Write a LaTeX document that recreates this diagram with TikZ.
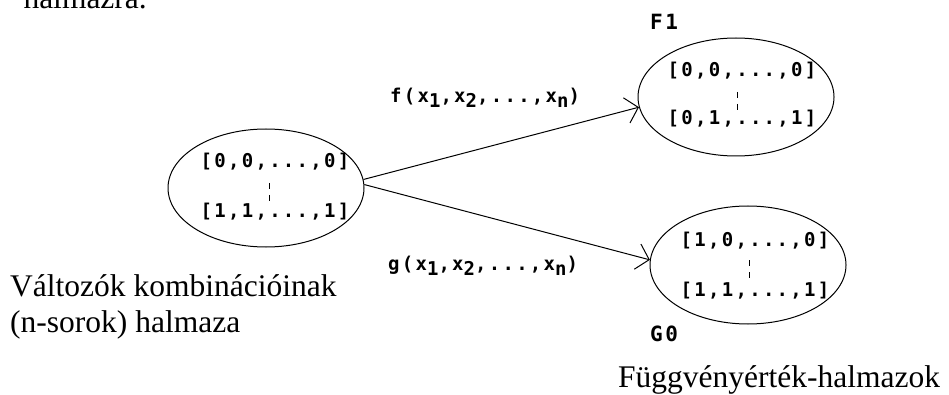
\documentclass[tikz,border=0pt]{standalone}
\usepackage{fontspec}
\setmainfont{Liberation Serif}
\newfontfamily\pix[LetterSpace=12]{DejaVu Sans Mono Bold}
\usetikzlibrary{shapes.geometric,arrows.meta}
\newcommand\lowsub[1]{\raisebox{-5pt}{#1}}
\begin{document}
\begin{tikzpicture}[x=1pt,y=-1pt,
 setell/.style={draw, line width=1pt, ellipse, minimum width=196pt, minimum height=118pt, inner sep=0pt},
 tuple/.style={font=\pix\fontsize{19}{19}\selectfont, anchor=base, inner sep=0pt},
 fnlabel/.style={font=\pix\fontsize{19}{19}\selectfont, anchor=base west, inner sep=0pt},
 setname/.style={font=\pix\fontsize{21}{21}\selectfont, anchor=base west, inner sep=0pt},
 caption/.style={font=\fontsize{31.5}{36}\selectfont, anchor=base west, inner sep=0pt},
 vdots/.style={line width=1pt, dash pattern=on 6pt off 6pt},
 mapto/.style={line width=1pt, -{Straight Barb[length=12pt,width=26pt]}}
]
\useasboundingbox (0,0) rectangle (949,395);

% partially visible text at top
\node[caption, anchor=base east] (prev) at (147,9) {halmazra.};

% ellipses
\node[setell] (L) at (266,188) {};
\node[setell] (F) at (736,97) {};
\node[setell] (G) at (748,265) {};

% tuples
\node[tuple] (l1) at (275,168) {[0,0,...,0]};
\node[tuple] (l2) at (275,218) {[1,1,...,1]};
\draw[vdots] (269,183) -- (269,203);

\node[tuple] (f1) at (742,77) {[0,0,...,0]};
\node[tuple] (f2) at (742,125) {[0,1,...,1]};
\draw[vdots] (737,92) -- (737,111);

\node[tuple] (g1) at (755,247) {[1,0,...,0]};
\node[tuple] (g2) at (755,296) {[1,1,...,1]};
\draw[vdots] (749,260) -- (749,281);

% set names
\node[setname] (fname) at (650,30) {F1};
\node[setname] (gname) at (650,341) {G0};

% arrows
\draw[mapto] (L.5) -- (F.186);
\draw[mapto] (L.2) -- (G.177);

% function labels
\node[fnlabel] (flab) at (390,103) {f(x\lowsub{1},x\lowsub{2},...,x\lowsub{n})};
\node[fnlabel] (glab) at (388,270) {g(x\lowsub{1},x\lowsub{2},...,x\lowsub{n})};

% captions
\node[caption] (cap1) at (10,296) {Változók kombinációinak};
\node[caption] (cap2) at (10,332) {(n-sorok) halmaza};
\node[caption] (cap3) at (618,387) {Függvényérték-halmazok};
\end{tikzpicture}
\end{document}
